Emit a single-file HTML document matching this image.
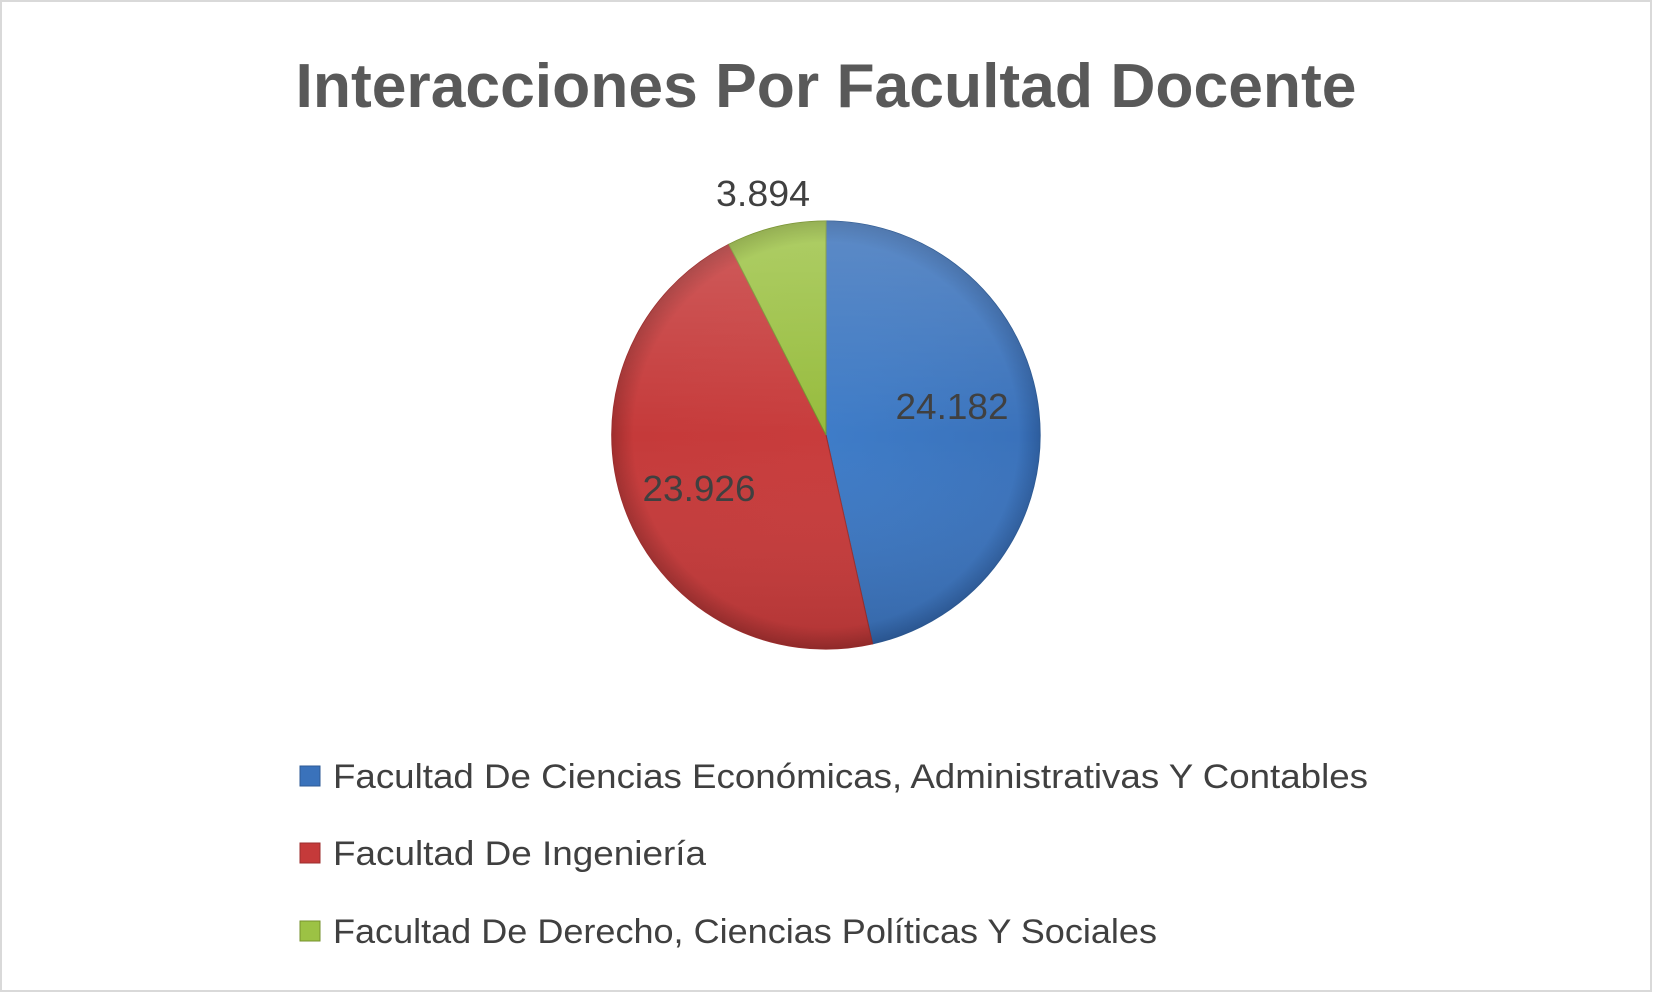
<!DOCTYPE html>
<html><head><meta charset="utf-8"><style>
html,body{margin:0;padding:0;background:#fff;}
svg{display:block;}
</style></head><body>
<svg width="1653" height="993" viewBox="0 0 1653 993" xmlns="http://www.w3.org/2000/svg">
<defs>
<radialGradient id="gb" cx="826" cy="435" r="214" gradientUnits="userSpaceOnUse">
<stop offset="0" stop-color="#3e7cc8"/><stop offset="0.9" stop-color="#3a72bb"/><stop offset="1" stop-color="#2d5d9e"/></radialGradient>
<radialGradient id="gr" cx="826" cy="435" r="214" gradientUnits="userSpaceOnUse">
<stop offset="0" stop-color="#c83c3c"/><stop offset="0.9" stop-color="#c53a3a"/><stop offset="1" stop-color="#a02e2e"/></radialGradient>
<radialGradient id="gg" cx="826" cy="435" r="214" gradientUnits="userSpaceOnUse">
<stop offset="0" stop-color="#96bb3c"/><stop offset="0.9" stop-color="#9cc244"/><stop offset="1" stop-color="#7f9f30"/></radialGradient>
<linearGradient id="sh" x1="0" y1="0" x2="0" y2="1">
<stop offset="0" stop-color="#fff" stop-opacity="0.18"/><stop offset="0.5" stop-color="#fff" stop-opacity="0"/><stop offset="1" stop-color="#000" stop-opacity="0.1"/></linearGradient>
</defs>
<rect x="1" y="1" width="1650" height="990" fill="#fff" stroke="#d9d9d9" stroke-width="2"/>
<text x="826" y="107" text-anchor="middle" font-family="Liberation Sans, sans-serif" font-weight="bold" font-size="62" fill="#595959" textLength="1061" lengthAdjust="spacingAndGlyphs">Interacciones Por Facultad Docente</text>
<path d="M826,435 L826,221 A214,214 0 0 1 872.6,643.9 Z" fill="url(#gb)" stroke="#2d5a94" stroke-width="1"/>
<path d="M826,435 L872.6,643.9 A214,214 0 0 1 728.8,244.3 Z" fill="url(#gr)" stroke="#9c2e2e" stroke-width="1"/>
<path d="M826,435 L728.8,244.3 A214,214 0 0 1 826,221 Z" fill="url(#gg)" stroke="#76922c" stroke-width="1"/>
<circle cx="826" cy="435" r="214" fill="url(#sh)"/>
<g font-family="Liberation Sans, sans-serif" font-size="36" fill="#404040" text-anchor="middle">
<text x="952" y="419" textLength="113" lengthAdjust="spacingAndGlyphs">24.182</text>
<text x="699" y="501" textLength="113" lengthAdjust="spacingAndGlyphs">23.926</text>
<text x="763" y="206" textLength="94" lengthAdjust="spacingAndGlyphs">3.894</text>
</g>
<g font-family="Liberation Sans, sans-serif" font-size="34" fill="#404040">
<rect x="300" y="766" width="20" height="20" fill="#3a72bb" stroke="#2d5a94"/>
<text x="333" y="788" textLength="1035" lengthAdjust="spacingAndGlyphs">Facultad De Ciencias Económicas, Administrativas Y Contables</text>
<rect x="300" y="843" width="20" height="20" fill="#c53a3a" stroke="#9c2e2e"/>
<text x="333" y="865" textLength="373" lengthAdjust="spacingAndGlyphs">Facultad De Ingeniería</text>
<rect x="300" y="921" width="20" height="20" fill="#9cc244" stroke="#76922c"/>
<text x="333" y="943" textLength="824" lengthAdjust="spacingAndGlyphs">Facultad De Derecho, Ciencias Políticas Y Sociales</text>
</g>
</svg>
</body></html>
